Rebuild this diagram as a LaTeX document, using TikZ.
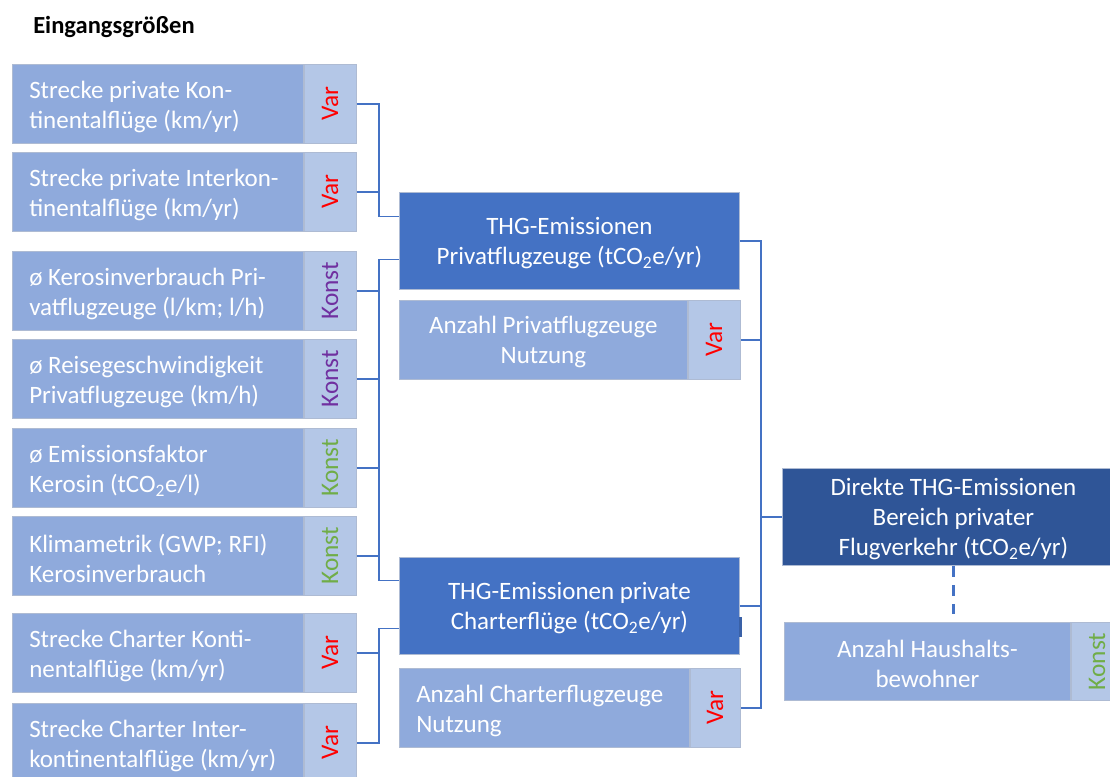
\documentclass[tikz,border=0pt]{standalone}
\usepackage{fontspec}
\setmainfont{Carlito}
\newlength\pxu
\setlength\pxu{0.75pt}
\definecolor{boxfill}{HTML}{8FAADC}
\definecolor{tagfill}{HTML}{B4C7E7}
\definecolor{midblue}{HTML}{4472C4}
\definecolor{darkblue}{HTML}{2F5597}
\definecolor{edgegray}{HTML}{AEBBD3}
\definecolor{varred}{HTML}{FF0000}
\definecolor{konstpurple}{HTML}{7030A0}
\definecolor{konstgreen}{HTML}{70AD47}
\newcommand\bodyfont{\fontsize{18.75}{22.5}\selectfont}
\newcommand\tagfont{\fontsize{19}{20}\selectfont}
\newcommand\cotwo{tCO\textsubscript{2}e}
\tikzset{
  inbox/.style={draw=edgegray, line width=0.6pt, fill=boxfill, anchor=north west,
    minimum width=291\pxu, minimum height=79\pxu, inner sep=0pt},
  tagbox/.style={draw=edgegray, line width=0.6pt, fill=tagfill, anchor=north west,
    minimum width=52\pxu, minimum height=79\pxu, inner sep=0pt, font=\tagfont},
  boxtext/.style={anchor=west, align=left, text=white, font=\bodyfont, inner sep=0pt,
    yshift=-3\pxu},
  ctext/.style={align=center, text=white, font=\bodyfont, inner sep=0pt, yshift=-2.5\pxu},
  resbox/.style={draw=edgegray, line width=0.6pt, fill=midblue, anchor=north west,
    minimum width=340\pxu, minimum height=97\pxu, inner sep=0pt},
  midbox/.style={draw=edgegray, line width=0.6pt, fill=boxfill, anchor=north west,
    minimum height=79\pxu, inner sep=0pt},
  conn/.style={draw=midblue, line width=1.1pt},
}
\begin{document}
\begin{tikzpicture}[x=0.75pt, y=-0.75pt]
\useasboundingbox (0,0) rectangle (1110,776);
\begin{scope}
\clip (0,0) rectangle (1110,776);

% heading
\node[anchor=base west, inner sep=0pt, font=\bfseries\fontsize{18.4}{20}\selectfont] (title) at (33,33) {Eingangsgrößen};

% input quantities (left column)
\node[inbox] (b1) at (12,64) {};
\node[tagbox] (t1) at (b1.north east) {\rotatebox{90}{\color{varred}Var}};
\node[boxtext] (l1) at ([xshift=17\pxu]b1.west) {Strecke private Kon-\\tinentalflüge (km/yr)};

\node[inbox] (b2) at (12,152) {};
\node[tagbox] (t2) at (b2.north east) {\rotatebox{90}{\color{varred}Var}};
\node[boxtext] (l2) at ([xshift=17\pxu]b2.west) {Strecke private Interkon-\\tinentalflüge (km/yr)};

\node[inbox] (b3) at (12,251) {};
\node[tagbox] (t3) at (b3.north east) {\rotatebox{90}{\color{konstpurple}Konst}};
\node[boxtext] (l3) at ([xshift=17\pxu]b3.west) {ø Kerosinverbrauch Pri-\\vatflugzeuge (l/km; l/h)};

\node[inbox] (b4) at (12,339) {};
\node[tagbox] (t4) at (b4.north east) {\rotatebox{90}{\color{konstpurple}Konst}};
\node[boxtext] (l4) at ([xshift=17\pxu]b4.west) {ø Reisegeschwindigkeit\\Privatflugzeuge (km/h)};

\node[inbox] (b5) at (12,428) {};
\node[tagbox] (t5) at (b5.north east) {\rotatebox{90}{\color{konstgreen}Konst}};
\node[boxtext] (l5) at ([xshift=17\pxu]b5.west) {ø Emissionsfaktor\\Kerosin (\cotwo/l)};

\node[inbox] (b6) at (12,516) {};
\node[tagbox] (t6) at (b6.north east) {\rotatebox{90}{\color{konstgreen}Konst}};
\node[boxtext] (l6) at ([xshift=17\pxu]b6.west) {Klimametrik (GWP; RFI)\\Kerosinverbrauch};

\node[inbox] (b7) at (12,613) {};
\node[tagbox] (t7) at (b7.north east) {\rotatebox{90}{\color{varred}Var}};
\node[boxtext] (l7) at ([xshift=17\pxu]b7.west) {Strecke Charter Konti-\\nentalflüge (km/yr)};

\node[inbox] (b8) at (12,703) {};
\node[tagbox] (t8) at (b8.north east) {\rotatebox{90}{\color{varred}Var}};
\node[boxtext] (l8) at ([xshift=17\pxu]b8.west) {Strecke Charter Inter-\\kontinentalflüge (km/yr)};

% intermediate results (middle column)
\node[resbox] (thg1) at (399,192) {};
\node[ctext] (thg1l) at (thg1.center) {THG-Emissionen\\Privatflugzeuge (\cotwo/yr)};
\node[midbox, minimum width=288\pxu] (ap) at (399,300) {};
\node[tagbox] (tp) at (ap.north east) {\rotatebox{90}{\color{varred}Var}};
\node[ctext] (apl) at (ap.center) {Anzahl Privatflugzeuge\\Nutzung};

\node[resbox] (thg2) at (399,557) {};
\node[ctext] (thg2l) at (thg2.center) {THG-Emissionen private\\Charterflüge (\cotwo/yr)};
\fill[midblue!85!black] (739,617) rectangle (741.5,637);
\node[midbox, minimum width=290\pxu] (ac) at (399,668) {};
\node[tagbox, minimum width=50\pxu] (tc) at (ac.north east) {\rotatebox{90}{\color{varred}Var}};
\node[boxtext] (acl) at ([xshift=17\pxu]ac.west) {Anzahl Charterflugzeuge\\Nutzung};

% overall result (right column)
\node[resbox, fill=darkblue, minimum width=342\pxu] (dir) at (782,468) {};
\node[ctext] (dirl) at (dir.center) {Direkte THG-Emissionen\\Bereich privater\\Flugverkehr (\cotwo/yr)};
\node[midbox, minimum width=286\pxu, minimum height=78\pxu] (hh) at (784,622) {};
\node[tagbox, minimum height=78\pxu] (th) at (hh.north east) {\rotatebox{90}{\color{konstgreen}Konst}};
\node[ctext] (hhl) at (hh.center) {Anzahl Haushalts-\\bewohner};

% junction columns
\coordinate (xa) at (379,0);
\coordinate (xb) at (761,0);

% connectors: private flight distances
\draw[conn] (t1.east) -- (t1.east -| xa) |- ([yshift=24.5\pxu]thg1.west);
\draw[conn] (t2.east) -- (t2.east -| xa);

% connectors: constants
\draw[conn] ([yshift=-18.5\pxu]thg1.west) -- ([yshift=-18.5\pxu]thg1.west -| xa)
  |- ([yshift=25.5\pxu]thg2.west);
\draw[conn] (t3.east) -- (t3.east -| xa);
\draw[conn] (t4.east) -- (t4.east -| xa);
\draw[conn] (t5.east) -- (t5.east -| xa);
\draw[conn] (t6.east) -- (t6.east -| xa);

% connectors: charter flight distances
\draw[conn] ([yshift=-22.5\pxu]thg2.west) -- ([yshift=-22.5\pxu]thg2.west -| xa) |- (t8.east);
\draw[conn] (t7.east) -- (t7.east -| xa);

% connectors: into the overall result
\draw[conn] (thg1.east) -- (thg1.east -| xb) |- (tc.east);
\draw[conn] (tp.east) -- (tp.east -| xb);
\draw[conn] (thg2.east) -- (thg2.east -| xb);
\draw[conn] (dir.west -| xb) -- (dir.west);

% dashed link to household size
\draw[draw=midblue, line width=2.4pt, dash pattern=on 11\pxu off 8\pxu, shorten >=8\pxu]
  (dir.south) -- (dir.south |- hh.north);
\end{scope}
\end{tikzpicture}
\end{document}
